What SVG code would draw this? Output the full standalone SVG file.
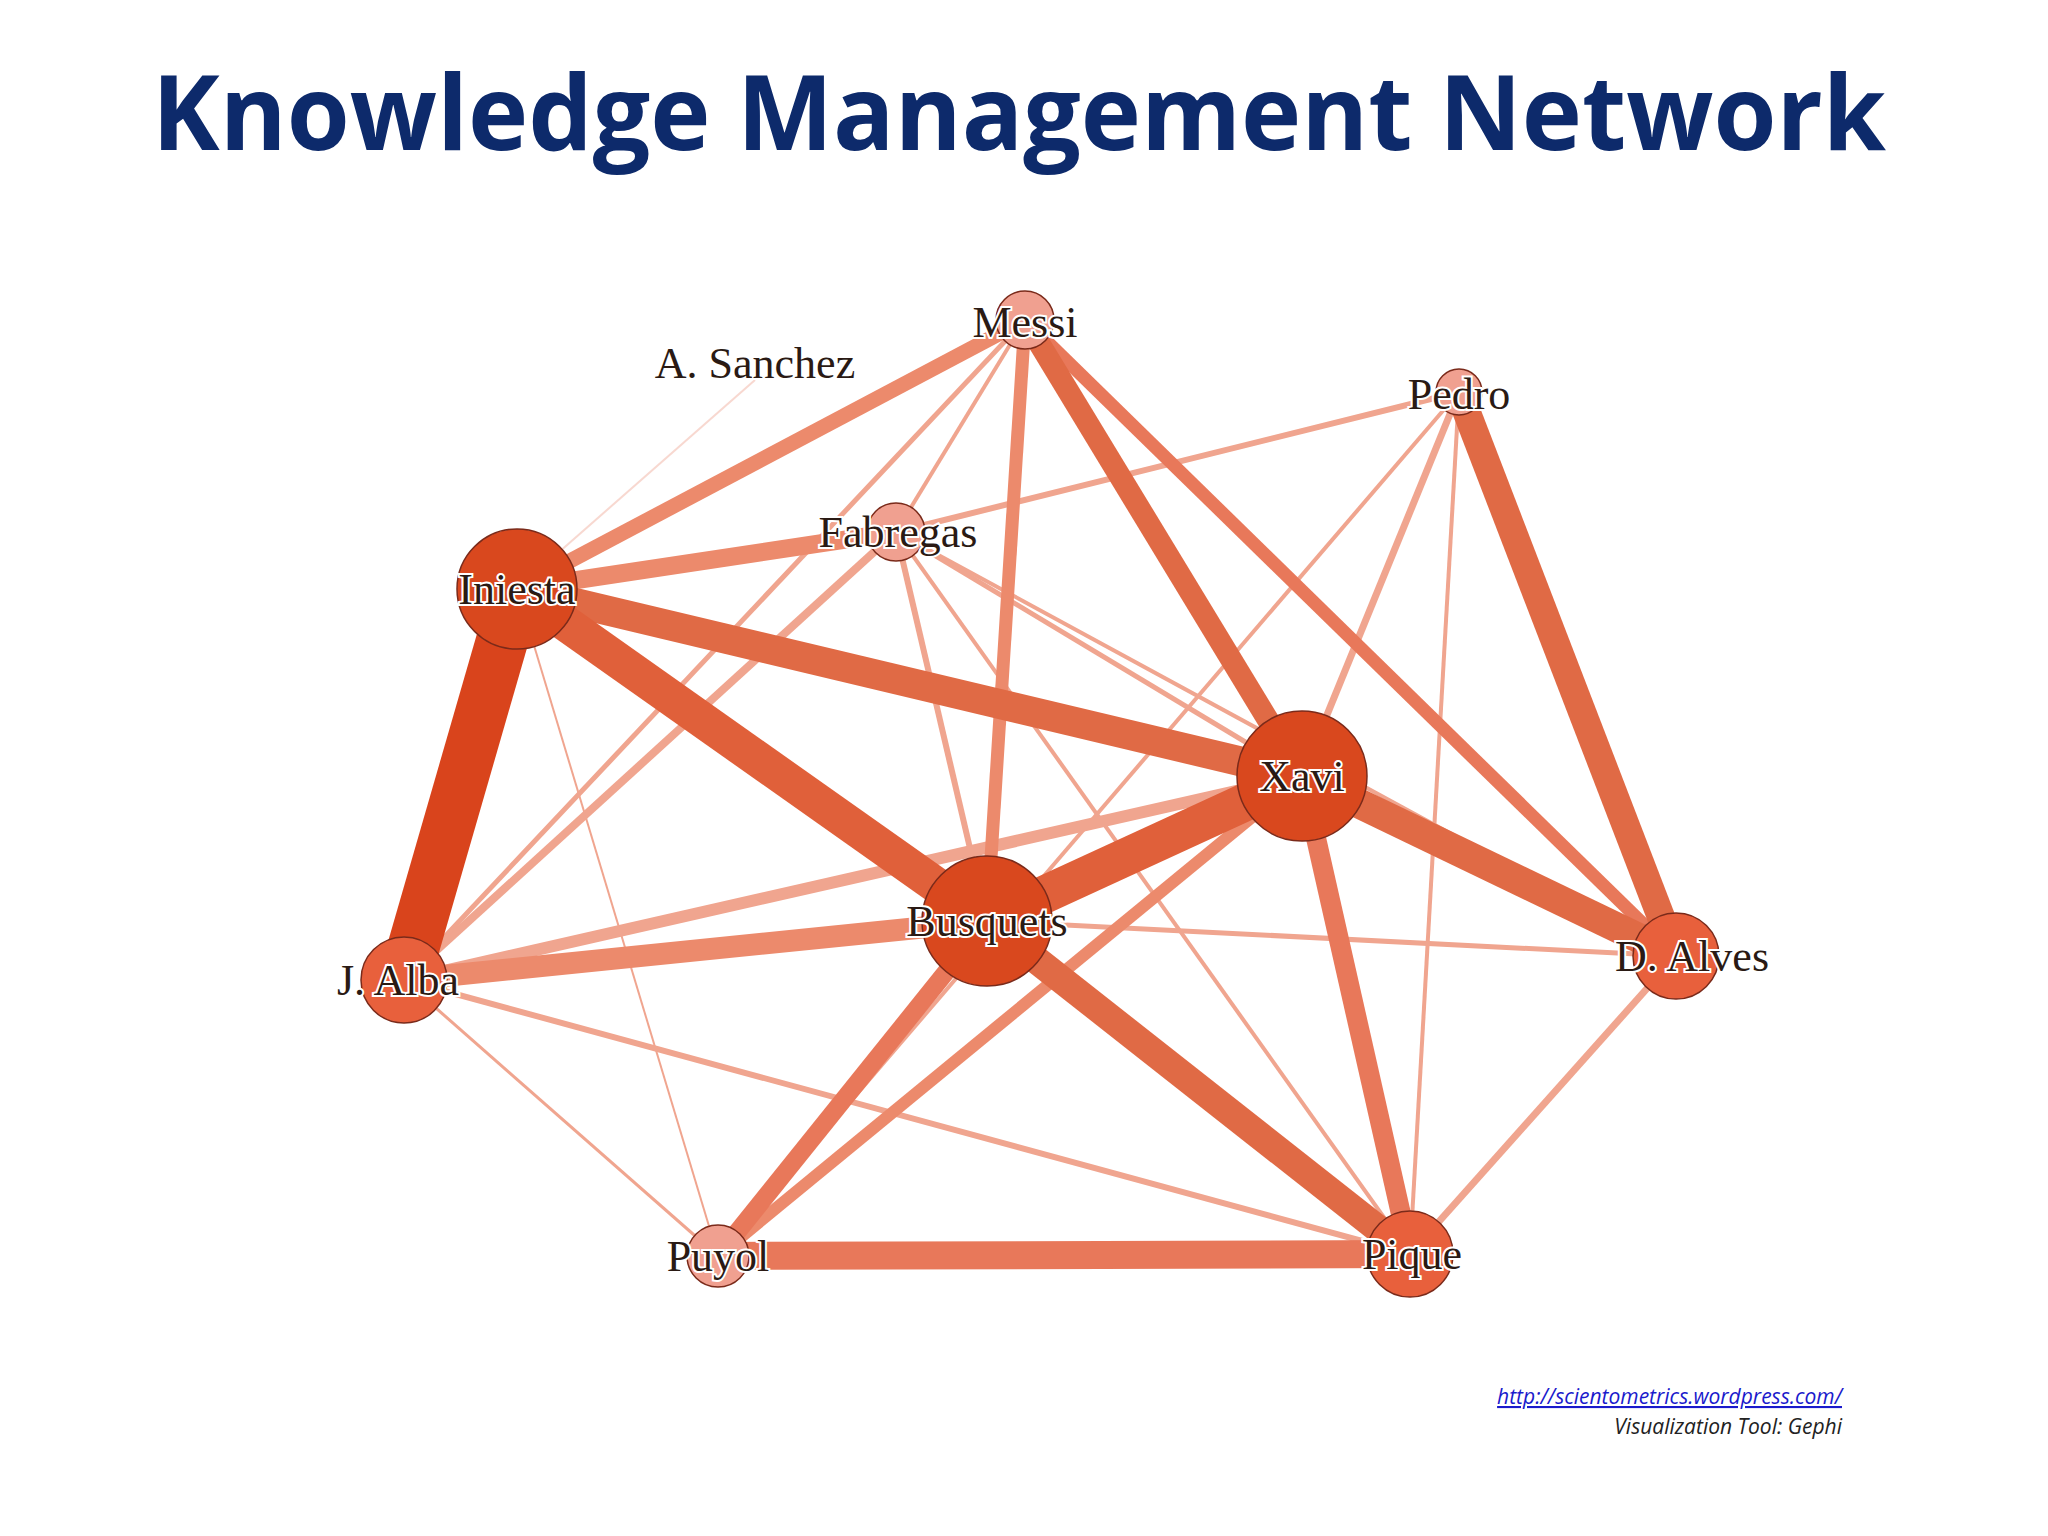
<svg xmlns="http://www.w3.org/2000/svg" width="2048" height="1536" viewBox="0 0 2048 1536">
<style>
.e{stroke-linecap:butt;fill:none}
.n{stroke:#7a2a1a;stroke-width:1.5}
.lb{font-family:"Liberation Serif",serif;font-size:44px;fill:#2a1a14;stroke:#fff;stroke-width:4;paint-order:stroke;text-anchor:middle;dominant-baseline:central}
</style>
<rect width="2048" height="1536" fill="#fff"/>
<text x="1019" y="150" font-family="'Open Sans','Liberation Sans',sans-serif" font-weight="bold" font-size="104" fill="#0d2a6b" text-anchor="middle" textLength="1734" lengthAdjust="spacingAndGlyphs">Knowledge Management Network</text>
<g id="connectors">
<line class="e" x1="755" y1="380" x2="517" y2="589" stroke="#f8d8d0" stroke-width="2"/>
<line class="e" x1="517" y1="589" x2="718" y2="1256" stroke="#f0a58f" stroke-width="2"/>
<line class="e" x1="404" y1="980" x2="718" y2="1256" stroke="#f0a58f" stroke-width="3"/>
<line class="e" x1="896" y1="532" x2="1459" y2="392" stroke="#f0a58f" stroke-width="6"/>
<line class="e" x1="1025" y1="320" x2="896" y2="532" stroke="#f0a58f" stroke-width="4"/>
<line class="e" x1="896" y1="532" x2="1676" y2="956" stroke="#f0a58f" stroke-width="4"/>
<line class="e" x1="896" y1="532" x2="1410" y2="1254" stroke="#f0a58f" stroke-width="4"/>
<line class="e" x1="896" y1="532" x2="1302" y2="776" stroke="#f0a58f" stroke-width="5"/>
<line class="e" x1="896" y1="532" x2="987" y2="921" stroke="#f0a58f" stroke-width="6"/>
<line class="e" x1="896" y1="532" x2="404" y2="980" stroke="#f0a58f" stroke-width="8"/>
<line class="e" x1="1025" y1="320" x2="404" y2="980" stroke="#f0a58f" stroke-width="5"/>
<line class="e" x1="1459" y1="392" x2="718" y2="1256" stroke="#f0a58f" stroke-width="4"/>
<line class="e" x1="1459" y1="392" x2="1410" y2="1254" stroke="#f0a58f" stroke-width="4"/>
<line class="e" x1="1459" y1="392" x2="1302" y2="776" stroke="#f0a58f" stroke-width="7"/>
<line class="e" x1="987" y1="921" x2="1676" y2="956" stroke="#f0a58f" stroke-width="5"/>
<line class="e" x1="404" y1="980" x2="1410" y2="1254" stroke="#f0a58f" stroke-width="6"/>
<line class="e" x1="1676" y1="956" x2="1410" y2="1254" stroke="#f0a58f" stroke-width="7"/>
<line class="e" x1="404" y1="980" x2="1302" y2="776" stroke="#f0a58f" stroke-width="12"/>
<line class="e" x1="1302" y1="776" x2="718" y2="1256" stroke="#ec8a6c" stroke-width="12"/>
<line class="e" x1="1025" y1="320" x2="987" y2="921" stroke="#ec8a6c" stroke-width="13"/>
<line class="e" x1="517" y1="589" x2="1025" y2="320" stroke="#ec8a6c" stroke-width="15"/>
<line class="e" x1="517" y1="589" x2="896" y2="532" stroke="#ec8a6c" stroke-width="18"/>
<line class="e" x1="1025" y1="320" x2="1676" y2="956" stroke="#e8785a" stroke-width="13"/>
<line class="e" x1="987" y1="921" x2="718" y2="1256" stroke="#e8785a" stroke-width="18"/>
<line class="e" x1="404" y1="980" x2="987" y2="921" stroke="#ec8a6c" stroke-width="22"/>
<line class="e" x1="1302" y1="776" x2="1410" y2="1254" stroke="#e8785a" stroke-width="20"/>
<line class="e" x1="718" y1="1256" x2="1410" y2="1254" stroke="#e8785a" stroke-width="28"/>
<line class="e" x1="1025" y1="320" x2="1302" y2="776" stroke="#e06a45" stroke-width="22"/>
<line class="e" x1="1459" y1="392" x2="1676" y2="956" stroke="#e06a45" stroke-width="28"/>
<line class="e" x1="987" y1="921" x2="1410" y2="1254" stroke="#e06a45" stroke-width="28"/>
<line class="e" x1="1302" y1="776" x2="1676" y2="956" stroke="#e06a45" stroke-width="30"/>
<line class="e" x1="517" y1="589" x2="1302" y2="776" stroke="#e06a45" stroke-width="30"/>
<line class="e" x1="517" y1="589" x2="987" y2="921" stroke="#e0603a" stroke-width="36"/>
<line class="e" x1="987" y1="921" x2="1302" y2="776" stroke="#e0603a" stroke-width="38"/>
<line class="e" x1="517" y1="589" x2="404" y2="980" stroke="#d9441c" stroke-width="52"/>
</g>
<g id="n-messi"><circle class="n" cx="1025" cy="320" r="29" fill="#f0a090"/><text class="lb" x="1025" y="322">Messi</text></g>
<g id="n-sanchez"><text class="lb" x="755" y="363">A. Sanchez</text></g>
<g id="n-pedro"><circle class="n" cx="1459" cy="392" r="23" fill="#f0a090"/><text class="lb" x="1459" y="394">Pedro</text></g>
<g id="n-fabregas"><circle class="n" cx="896" cy="532" r="29" fill="#f0a090"/><text class="lb" x="898" y="532">Fabregas</text></g>
<g id="n-iniesta"><circle class="n" cx="517" cy="589" r="60" fill="#d9481e"/><text class="lb" x="517" y="589">Iniesta</text></g>
<g id="n-xavi"><circle class="n" cx="1302" cy="776" r="65" fill="#d9481e"/><text class="lb" x="1302" y="776">Xavi</text></g>
<g id="n-busquets"><circle class="n" cx="987" cy="921" r="65" fill="#d9481e"/><text class="lb" x="987" y="921">Busquets</text></g>
<g id="n-alba"><circle class="n" cx="404" cy="980" r="43" fill="#e8603c"/><text class="lb" x="398" y="980">J. Alba</text></g>
<g id="n-alves"><circle class="n" cx="1676" cy="956" r="43" fill="#e8603c"/><text class="lb" x="1692" y="956">D. Alves</text></g>
<g id="n-puyol"><circle class="n" cx="718" cy="1256" r="31" fill="#f0a090"/><text class="lb" x="718" y="1256">Puyol</text></g>
<g id="n-pique"><circle class="n" cx="1410" cy="1254" r="43" fill="#e8603c"/><text class="lb" x="1412" y="1254">Pique</text></g>
<text x="1842" y="1404" font-family="'Open Sans','Liberation Sans',sans-serif" font-style="italic" font-size="21" fill="#1a1acc" text-decoration="underline" text-anchor="end">http://scientometrics.wordpress.com/</text>
<text x="1842" y="1434" font-family="'Open Sans','Liberation Sans',sans-serif" font-style="italic" font-size="21" fill="#222" text-anchor="end">Visualization Tool: Gephi</text>
</svg>
